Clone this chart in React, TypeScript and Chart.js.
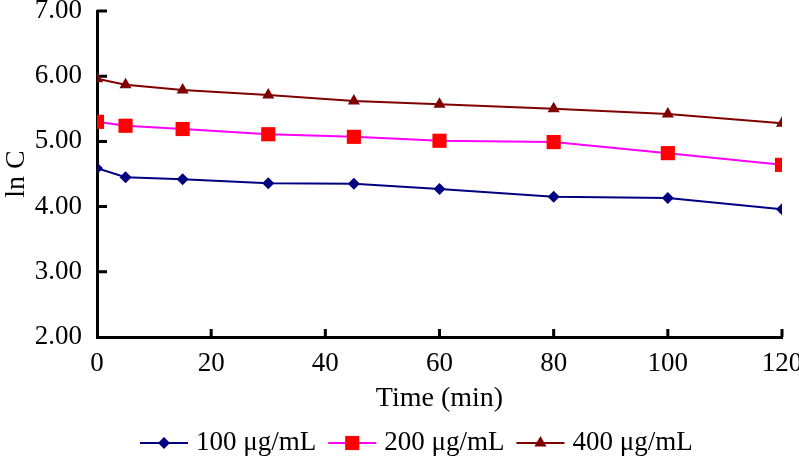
import React, { useEffect, useRef } from 'react';
import { Chart, registerables } from 'chart.js';

Chart.register(...registerables);

const times = [0, 5, 15, 30, 45, 60, 80, 100, 120];
const series100 = [4.59, 4.45, 4.42, 4.36, 4.35, 4.27, 4.15, 4.13, 3.96];
const series200 = [5.30, 5.24, 5.19, 5.11, 5.07, 5.01, 4.99, 4.82, 4.64];
const series400 = [5.96, 5.87, 5.79, 5.71, 5.62, 5.57, 5.50, 5.42, 5.28];
const seriesLabels = ['100 μg/mL', '200 μg/mL', '400 μg/mL'];
const xTitle = 'Time (min)';
const yTitle = 'ln C';

const FONT = '"Liberation Serif", "Times New Roman", serif';

const toPoints = (vals: number[]) => times.map((t, i) => ({ x: t, y: vals[i] }));

function drawMarker(ctx: CanvasRenderingContext2D, style: string, x: number, y: number, r: number, color: string) {
  ctx.save();
  ctx.fillStyle = color;
  ctx.beginPath();
  if (style === 'rectRot') {
    ctx.moveTo(x, y - r);
    ctx.lineTo(x + r, y);
    ctx.lineTo(x, y + r);
    ctx.lineTo(x - r, y);
  } else if (style === 'rect') {
    const s = Math.SQRT1_2 * r;
    ctx.rect(x - s, y - s, 2 * s, 2 * s);
  } else {
    const h = r * 1.5;
    ctx.moveTo(x, y - r);
    ctx.lineTo(x + (h / Math.sqrt(3)), y + r / 2);
    ctx.lineTo(x - (h / Math.sqrt(3)), y + r / 2);
  }
  ctx.closePath();
  ctx.fill();
  ctx.restore();
}

const innerTicksPlugin = {
  id: 'innerTicks',
  beforeDatasetsDraw(chart: any) {
    const { ctx, scales } = chart;
    const xs = scales.x;
    const ys = scales.y;
    ctx.save();
    ctx.strokeStyle = '#000';
    ctx.lineWidth = 3;
    ctx.beginPath();
    ys.ticks.forEach((t: any) => {
      const py = ys.getPixelForValue(t.value);
      if (Math.abs(py - ys.bottom) < 1) return;
      ctx.moveTo(xs.left, py);
      ctx.lineTo(xs.left + 10, py);
    });
    xs.ticks.forEach((t: any) => {
      const px = xs.getPixelForValue(t.value);
      if (Math.abs(px - xs.left) < 1) return;
      ctx.moveTo(px, ys.bottom);
      ctx.lineTo(px, ys.bottom - 8);
    });
    ctx.stroke();
    ctx.restore();
  },
};

const legendPlugin = {
  id: 'lineMarkerLegend',
  afterDraw(chart: any) {
    const { ctx } = chart;
    ctx.save();
    ctx.font = `27px ${FONT}`;
    ctx.textBaseline = 'middle';
    ctx.textAlign = 'left';
    const y = 443;
    let x = 140;
    chart.data.datasets.forEach((ds: any) => {
      ctx.strokeStyle = ds.borderColor;
      ctx.lineWidth = 2;
      ctx.beginPath();
      ctx.moveTo(x, y);
      ctx.lineTo(x + 48, y);
      ctx.stroke();
      drawMarker(ctx, ds.pointStyle, x + 24, y, ds.pointRadius, ds.pointBackgroundColor);
      x += 48 + 8;
      ctx.fillStyle = '#000';
      ctx.fillText(ds.label, x, y);
      x += ctx.measureText(ds.label).width + 12;
    });
    ctx.restore();
  },
};

export default function App() {
  const canvasRef = useRef<HTMLCanvasElement | null>(null);

  useEffect(() => {
    if (!canvasRef.current) return;
    const chart = new Chart(canvasRef.current, {
      type: 'line',
      data: {
        datasets: [
          {
            label: seriesLabels[0],
            data: toPoints(series100),
            borderColor: '#000080',
            backgroundColor: '#000080',
            pointBackgroundColor: '#000080',
            pointBorderColor: '#000080',
            pointStyle: 'rectRot',
            pointRadius: 6,
            pointBorderWidth: 0,
            borderWidth: 2,
          },
          {
            label: seriesLabels[1],
            data: toPoints(series200),
            borderColor: '#FF00FF',
            backgroundColor: '#FF0000',
            pointBackgroundColor: '#FF0000',
            pointBorderColor: '#FF0000',
            pointStyle: 'rect',
            pointRadius: 10,
            pointBorderWidth: 0,
            borderWidth: 2,
          },
          {
            label: seriesLabels[2],
            data: toPoints(series400),
            borderColor: '#800000',
            backgroundColor: '#800000',
            pointBackgroundColor: '#800000',
            pointBorderColor: '#800000',
            pointStyle: 'triangle',
            pointRadius: 7,
            pointBorderWidth: 0,
            borderWidth: 2,
          },
        ] as any,
      },
      options: {
        animation: false,
        responsive: false,
        maintainAspectRatio: false,
        layout: { padding: { top: 11, right: 17, left: 0, bottom: 0 } },
        plugins: {
          legend: { display: false },
          tooltip: { enabled: false },
        },
        scales: {
          x: {
            type: 'linear',
            min: 0,
            max: 120,
            grid: { display: false, drawTicks: false },
            border: { display: true, color: '#000', width: 3 },
            ticks: {
              stepSize: 20,
              color: '#000',
              padding: 11,
              maxRotation: 0,
              font: { family: FONT, size: 27 },
            },
            title: {
              display: true,
              text: xTitle,
              color: '#000',
              font: { family: FONT, size: 28 },
              padding: { top: 0, bottom: 42 },
            },
            afterFit: (scale: any) => {
              scale.height = 120;
              scale.paddingLeft = 0;
              scale.paddingRight = 0;
            },
          },
          y: {
            type: 'linear',
            min: 2,
            max: 7,
            grid: { display: false, drawTicks: false },
            border: { display: true, color: '#000', width: 3 },
            ticks: {
              stepSize: 1,
              color: '#000',
              padding: 15,
              font: { family: FONT, size: 27 },
              callback: (v: any) => Number(v).toFixed(2),
            },
            title: {
              display: true,
              text: yTitle,
              color: '#000',
              font: { family: FONT, size: 28 },
              padding: { top: 0, bottom: 0 },
            },
            afterFit: (scale: any) => {
              scale.width = 97;
              scale.paddingTop = 0;
              scale.paddingBottom = 0;
            },
          },
        },
      },
      plugins: [innerTicksPlugin, legendPlugin],
    });
    return () => chart.destroy();
  }, []);

  return (
    <div style={{ position: 'fixed', left: 0, top: 0, width: 799, height: 457, background: '#fff' }}>
      <canvas ref={canvasRef} width={799} height={457} style={{ display: 'block' }} />
    </div>
  );
}
